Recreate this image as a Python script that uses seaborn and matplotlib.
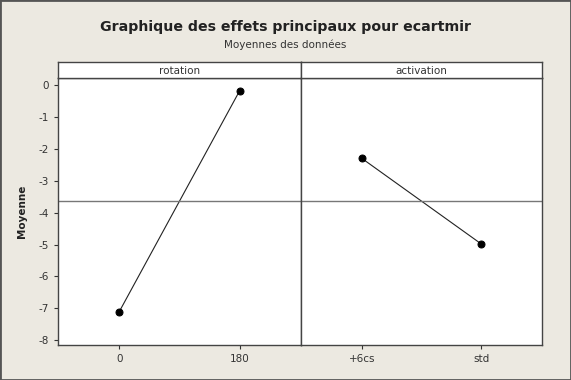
import matplotlib
matplotlib.use("Agg")
import matplotlib.pyplot as plt
import seaborn as sns
import pandas as pd
from matplotlib.patches import Rectangle

factors = ["rotation", "activation"]
rotation_levels = ["0", "180"]
rotation_means = [-7.1, -0.18]
activation_levels = ["+6cs", "std"]
activation_means = [-2.3, -4.98]
grand_mean = -3.64
y_ticks = [0, -1, -2, -3, -4, -5, -6, -7, -8]

sns.set_theme(style="white")
plt.rcParams['font.family'] = ['DejaVu Sans']

bg = "#ECE9E1"
fig = plt.figure(figsize=(5.71, 3.80), dpi=100, facecolor=bg)
fig.patches.append(Rectangle((0, 0), 1, 1, transform=fig.transFigure, fill=False,
                             edgecolor="#555555", linewidth=2.0))

L, M, R = 58/571, 301/571, 542/571
B, T, ST = 1 - 345/380, 1 - 78/380, 1 - 62/380

data = [(rotation_levels, rotation_means), (activation_levels, activation_means)]
axes = []
for i, (levels, means) in enumerate(data):
    x0 = L if i == 0 else M
    x1 = M if i == 0 else R
    ax = fig.add_axes([x0, B, x1 - x0, T - B])
    df = pd.DataFrame({"x": list(range(len(levels))), "y": means})
    sns.lineplot(data=df, x="x", y="y", ax=ax, color="#222222", linewidth=0.8,
                 marker="o", markersize=5, markeredgecolor="black",
                 markerfacecolor="black")
    ax.axhline(grand_mean, color="#777777", linewidth=1.0)
    ax.set_xlim(-0.51, 1.51)
    ax.set_ylim(-8.15, 0.22)
    ax.set_xticks(range(len(levels)))
    ax.set_xticklabels(levels)
    ax.set_xlabel("")
    ax.set_facecolor("white")
    for s in ax.spines.values():
        s.set_color("#444444")
        s.set_linewidth(1.0)
    ax.tick_params(axis="both", labelsize=7.5, colors="#333333", length=3,
                   width=0.8, direction="out", bottom=True, left=(i == 0))
    if i == 0:
        ax.set_yticks(y_ticks)
        ax.set_yticklabels([str(v) if v == 0 else "-" + str(abs(v)) for v in y_ticks])
        ax.set_ylabel("Moyenne", fontsize=7.5, fontweight="bold", color="#222222",
                      labelpad=8)
    else:
        ax.set_yticks([])
        ax.set_ylabel("")
    axes.append(ax)

    sax = fig.add_axes([x0, T, x1 - x0, ST - T])
    sax.set_facecolor("white")
    sax.set_xticks([]); sax.set_yticks([])
    for s in sax.spines.values():
        s.set_color("#444444")
        s.set_linewidth(1.0)
    sax.text(0.5, 0.45, factors[i], ha="center", va="center", fontsize=7.5,
             color="#333333", transform=sax.transAxes)

fig.text(0.5, 1 - 27/380, "Graphique des effets principaux pour ecartmir",
         ha="center", va="center", fontsize=10.2, fontweight="bold", color="#222222")
fig.text(0.5, 1 - 45/380, "Moyennes des données", ha="center", va="center",
         fontsize=7.5, color="#333333")

fig.savefig("out.png", dpi=100, facecolor=bg)
